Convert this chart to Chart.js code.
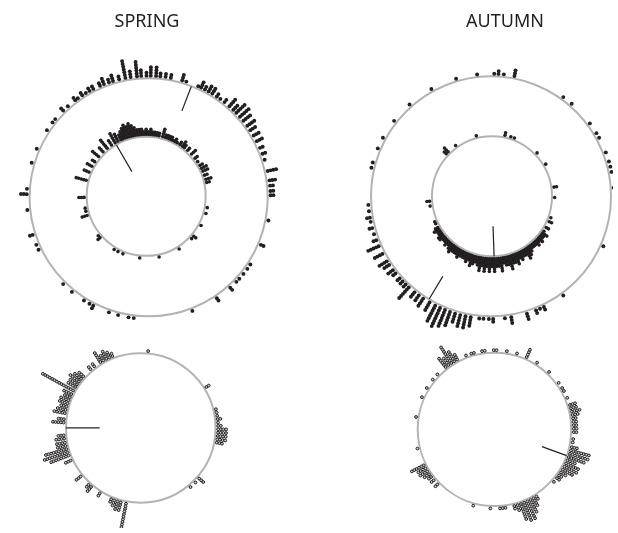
<!DOCTYPE html>
<html><head><meta charset="utf-8">
<script src="https://cdn.jsdelivr.net/npm/chart.js@4.4.1/dist/chart.umd.min.js"></script>
<style>
html,body{margin:0;padding:0;background:#fff;}
#wrap{position:relative;width:618px;height:533px;overflow:hidden;}
#c{position:absolute;left:0;top:0;}
.t{position:absolute;top:9px;width:160px;margin-left:-80px;text-align:center;font-family:"Noto Sans",sans-serif;font-size:18px;line-height:22px;color:#231f20;}
</style></head>
<body><div id="wrap">
<canvas id="c" width="618" height="533"></canvas>
<div class="t" style="left:147px">SPRING</div>
<div class="t" style="left:505px">AUTUMN</div>
</div>
<script>
// ---- data: bin angle (deg, clockwise from north) and number of records per bin ----
const springOuterAngles = [1,3.5,5.5,8,10.5,16,18,24,25.5,27.5,29.5,31.5,34,36,38.5,41.5,44,46,48.5,51,54,56.5,59.5,62.5,66,69,72,77.5,82,84.5,87,89,101,113,123.5,126,129,132,134,138,146,159,187,189.5,194.5,199,207,209,212,219,224.5,244.5,247,252,264,271.5,274,286.5,293.5,303.5,308,310,315.5,318.5,323,324.5,327,329,331,333,336.5,338.5,341,343,346,349,351.5,354.5,356.5,359];
const springOuterCounts = [4,4,2,2,2,3,1,1,3,2,3,3,2,1,2,4,3,5,5,4,4,3,3,3,2,2,1,4,3,2,2,2,1,2,1,1,1,1,1,2,2,1,1,1,1,1,2,1,1,1,1,1,1,2,1,3,1,1,1,1,1,1,2,1,2,1,2,1,2,2,2,3,2,3,2,7,3,6,3,2];

const springInnerAngles = [0,2,4,6,8,10,12,15.5,18,20,22,24,26,28,30,33,36,38,42,47,52,56,60,63,66,70,74,77,100.5,106,118,130,133,148,168,186,202,207,211,228,230.5,252,256,259,269,285,293,299,304,310,316,321,326,330,333,336,338,340,342,344,346,348,350,352,354,356,358];
const springInnerCounts = [3,2,3,2,2,2,2,4,2,2,2,2,1,2,1,2,3,2,2,3,2,1,2,3,3,2,3,2,1,1,1,2,1,1,1,1,1,1,1,2,1,3,1,1,3,5,3,3,2,4,3,5,3,5,4,3,4,5,6,5,6,5,4,3,3,3,2];

const autumnOuterAngles = [343.5,353.5,1.5,3.5,6,11,36,41,53.5,59,61.5,69,73.5,76,78.5,86,114,144,154.5,156.5,158.5,163,170.5,173.5,179,181,183.5,185.5,189.5,192,194.5,197,199.5,202,204.5,207,210,213.5,216,218.5,222,224,226,228,231,233,236,238,242,246,249,252,255,258,260,263,266,283.5,286,293,298.5,308,318.5,331];
const autumnOuterCounts = [1,1,1,2,1,3,1,1,1,1,1,1,1,1,1,1,1,1,2,1,2,3,3,1,2,1,1,1,4,5,5,4,6,7,8,7,4,4,3,3,6,2,2,2,2,3,3,4,4,5,2,1,2,1,2,1,1,1,1,1,1,1,1,1];

const autumnInnerAngles = [345.5,12,17.5,21,46,59,81.5,91,110,114,120,124,126,128,130,132,134,136,138,140,142,144,146,148,150,152,154,156,158,160,162,164,166,168,170,172,174,176,178,180,182,184,186,188,190,192,194,196,198,200,202,204,206,208,210,212,214,216,218,220,222,224,226,228,230,232,234,236,238,240,244,246,261,265.5,313,315.5,324.5];
const autumnInnerCounts = [1,2,1,1,1,1,2,1,1,2,2,1,3,2,2,3,2,3,2,2,2,3,4,5,3,3,4,3,5,4,4,6,4,4,3,6,4,4,6,4,6,4,6,4,6,4,3,4,5,3,4,3,3,3,4,3,3,3,4,3,2,3,2,2,3,3,2,2,3,2,1,1,1,2,2,3,1];

const lowerLeftAngles = [5.5,58,76,78.5,81,83.5,86,88.5,91,93.5,96,98.5,101,131,135,140,191,195,197.5,200,202.5,212,220,222.5,231,245,249,251.5,254,256.5,259,262,264.5,274,276.5,281,283.5,286,288.5,291,293.5,296,299,302,304.5,307,309.5,312,319.5,323,328.5,331,333.5,336,338.5];
const lowerLeftCounts = [1,2,1,1,1,2,1,2,4,4,4,4,3,3,1,1,11,4,4,3,2,2,3,2,3,3,8,10,9,4,4,4,3,5,3,5,4,3,4,4,3,4,14,4,4,5,4,3,2,2,5,3,4,3,2];

const lowerRightAngles = [322,324.5,327,329.5,332,339,343,345,351,353,359.5,1.5,9,16.5,24,32.5,43.5,54,58.5,61,66.5,72,74.5,77,79.5,82,84.5,87,89.5,92,97,99.5,103,105.5,108,110.5,113,115.5,118,120.5,123,125.5,128,131.5,148,150.5,153,155.5,158,160.5,163,165.5,172,174,176,183,195.5,226,230,233,235.5,238,240.5,243,256,279,294,301.5,309,314];
const lowerRightCounts = [5,4,8,5,3,1,1,1,1,1,1,1,1,1,4,1,1,1,1,1,1,3,3,4,3,2,2,2,2,2,1,1,3,8,8,7,4,6,6,5,3,2,2,1,2,4,6,8,8,7,3,2,1,1,1,1,1,2,2,2,3,4,4,6,1,1,1,1,1,1];

// mean direction (deg) and mean vector length (fraction of circle radius)
const meanAngles  = [21, 330, 211, 178, 270, 110];
const meanLengths = [0.22, 0.52, 0.22, 0.50, 0.45, 0.34];

// ---- layout (pixel units of the chart scales) ----
const panels = [
  {cx:146,  cy:196,   R:121, step:2.9, off:3.0},   // spring outer ring
  {cx:143.5,cy:195,   R:60.5,step:2.6, off:2.7},   // spring inner ring
  {cx:494,  cy:195,   R:122, step:2.9, off:3.0},   // autumn outer ring
  {cx:495,  cy:195,   R:61,  step:2.6, off:2.7},   // autumn inner ring
  {cx:138,  cy:431,   R:76,  step:2.7, off:2.7},   // lower left
  {cx:497.5,cy:432.5, R:78,  step:2.7, off:2.7}    // lower right
];
const series = [
  [springOuterAngles, springOuterCounts],
  [springInnerAngles, springInnerCounts],
  [autumnOuterAngles, autumnOuterCounts],
  [autumnInnerAngles, autumnInnerCounts],
  [lowerLeftAngles, lowerLeftCounts],
  [lowerRightAngles, lowerRightCounts]
];

function polar(p, deg, r){
  const t = deg*Math.PI/180;
  return {x: p.cx + r*Math.sin(t), y: p.cy - r*Math.cos(t)};
}
function stack(p, angles, counts){
  const pts = [];
  angles.forEach((a,i)=>{
    for(let k=0;k<counts[i];k++) pts.push(polar(p, a, p.R + p.off + k*p.step));
  });
  return pts;
}

const datasets = [];
series.forEach((s,i)=>{
  const p = panels[i];
  const open = i >= 4;
  datasets.push({
    data: stack(p, s[0], s[1]),
    pointRadius: open ? 1.4 : (i % 2 === 0 ? 1.95 : 1.8),
    pointBorderWidth: open ? 1.0 : 0,
    pointBackgroundColor: open ? '#c4c4c4' : '#231f20',
    pointBorderColor: '#231f20',
    showLine: false
  });
});
meanAngles.forEach((a,i)=>{
  const p = panels[i];
  datasets.push({
    data: [polar(p, a, p.R*(1-meanLengths[i])), polar(p, a, p.R)],
    showLine: true, borderColor: '#231f20', borderWidth: 1.2,
    pointRadius: 0, fill: false
  });
});

const rings = {
  id: 'rings',
  beforeDatasetsDraw(chart){
    const {ctx, scales:{x, y}} = chart;
    ctx.save();
    ctx.strokeStyle = '#b3b3b3';
    ctx.lineWidth = 2;
    panels.forEach(p=>{
      const px = x.getPixelForValue(p.cx), py = y.getPixelForValue(p.cy);
      const r = x.getPixelForValue(p.cx + p.R) - px;
      ctx.beginPath(); ctx.arc(px, py, r, 0, Math.PI*2); ctx.stroke();
    });
    ctx.restore();
  }
};

new Chart(document.getElementById('c'), {
  type: 'scatter',
  data: {datasets},
  options: {
    responsive: false, animation: false,
    layout: {padding: 0},
    scales: {
      x: {type:'linear', min:0, max:618, display:false},
      y: {type:'linear', min:0, max:533, reverse:true, display:false}
    },
    plugins: {legend:{display:false}, tooltip:{enabled:false}},
    events: []
  },
  plugins: [rings]
});
</script>
</body></html>
